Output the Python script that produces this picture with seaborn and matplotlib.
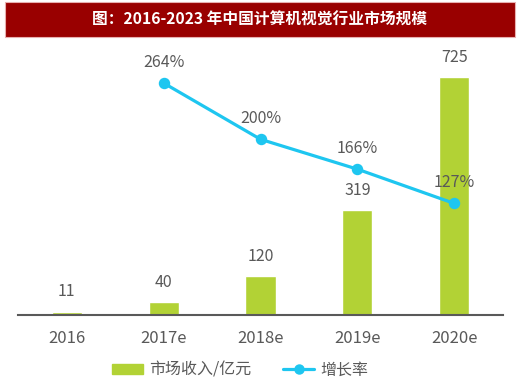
import pandas as pd
import matplotlib.pyplot as plt
import seaborn as sns
import numpy as np
from matplotlib.patches import Rectangle
from matplotlib.lines import Line2D

# Data
years = ['2016', '2017e', '2018e', '2019e', '2020e']
revenue = [11, 40, 120, 319, 725]            # 市场收入/亿元
growth = [np.nan, 264, 200, 166, 127]        # 增长率 (%)

df = pd.DataFrame({'Year': years, 'Revenue': revenue, 'Growth': growth})

sns.set_style('white')
plt.rcParams['font.family'] = ['Noto Sans CJK SC', 'DejaVu Sans']

bar_color = '#B2D235'
line_color = '#1EC6F0'
text_color = '#595959'

fig = plt.figure(figsize=(5.2, 3.9), dpi=100)
ax = fig.add_axes([0.035, 0.192, 0.932, 0.692])

# Bars
sns.barplot(x='Year', y='Revenue', data=df, order=years, color=bar_color,
            width=0.31, saturation=1, ax=ax)
ax.set_ylim(0, 822)
for i, v in enumerate(revenue):
    ax.annotate(str(v), (i, v), xytext=(0, 8), textcoords='offset points',
                ha='center', va='bottom', fontsize=11.5, color=text_color)

# Growth line on second axis
ax2 = ax.twinx()
sns.pointplot(x='Year', y='Growth', data=df, order=years, color=line_color,
              markers='o', linewidth=2.3, markersize=6.5, ax=ax2)
ax2.set_ylim(0, 307)
for i, v in enumerate(growth):
    if not np.isnan(v):
        ax2.annotate(f'{int(v)}%', (i, v), xytext=(0, 9), textcoords='offset points',
                     ha='center', va='bottom', fontsize=11.5, color=text_color)

for a in (ax, ax2):
    a.set_xlim(-0.5, 4.5)
    a.set_xlabel('')
    a.set_ylabel('')
    a.set_yticks([])
    for s in ['top', 'left', 'right']:
        a.spines[s].set_visible(False)
ax2.spines['bottom'].set_visible(False)
ax.spines['bottom'].set_color(text_color)
ax.spines['bottom'].set_linewidth(1.5)
ax.tick_params(axis='x', length=0, pad=11, labelsize=12, labelcolor=text_color)

# Title bar
fig.patches.append(Rectangle((5 / 520, 1 - 37 / 390), 510 / 520, 35 / 390,
                             transform=fig.transFigure, facecolor='#990000',
                             edgecolor='#E8B0B0', linewidth=0.8, zorder=0))
fig.text(0.5, 1 - 19.5 / 390, '图：2016-2023 年中国计算机视觉行业市场规模',
         ha='center', va='center', color='white', fontsize=11.3, fontweight='bold')

# Legend
handles = [Rectangle((0, 0), 1, 1, color=bar_color),
           Line2D([0], [0], color=line_color, lw=2.3, marker='o', markersize=6.5)]
fig.legend(handles, ['市场收入/亿元', '增长率'], loc='center', ncol=2,
           bbox_to_anchor=(0.462, 0.051), frameon=False, fontsize=11.5,
           labelcolor=text_color, handlelength=1.9, handleheight=0.6,
           columnspacing=2.0, handletextpad=0.4)

fig.savefig('out.png', dpi=100)
